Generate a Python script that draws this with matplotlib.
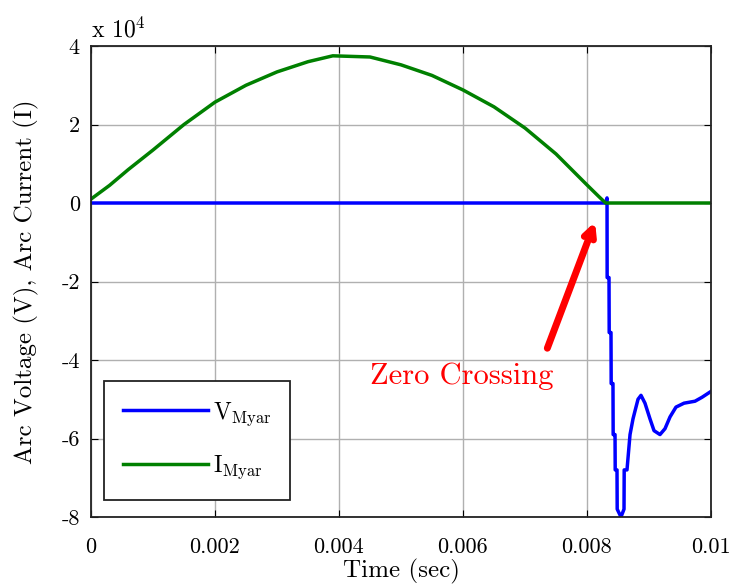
import matplotlib
matplotlib.use("Agg")
import matplotlib.pyplot as plt

plt.rcParams['font.family'] = 'serif'
plt.rcParams['font.serif'] = ['cmr10', 'DejaVu Serif']
plt.rcParams['mathtext.fontset'] = 'cm'
plt.rcParams['axes.unicode_minus'] = False
plt.rcParams['axes.formatter.use_mathtext'] = True

# Arc current (units of 1e4 A)
t_cur = [0.0, 0.0003, 0.0006, 0.001, 0.0015, 0.002, 0.0025, 0.003, 0.0035,
         0.0039, 0.0045, 0.005, 0.0055, 0.006, 0.0065, 0.007, 0.0075,
         0.008, 0.0082, 0.0083, 0.0085, 0.01]
i_cur = [0.1, 0.45, 0.85, 1.35, 2.0, 2.57, 3.0, 3.34, 3.6,
         3.75, 3.72, 3.52, 3.25, 2.88, 2.45, 1.91, 1.25,
         0.46, 0.15, 0.0, 0.0, 0.0]

# Arc voltage (units of 1e4 V)
t_volt = [0.0, 0.0083, 0.008323, 0.008325, 0.008355, 0.008358, 0.008387, 0.00839,
          0.008419, 0.008422, 0.008452, 0.008455, 0.008484, 0.008487, 0.008548,
          0.008597, 0.008600, 0.008645, 0.008694, 0.008742, 0.008774, 0.008823,
          0.008871, 0.008935, 0.009016, 0.009081, 0.009177, 0.009258, 0.009339,
          0.009435, 0.009565, 0.009742, 0.009855, 0.01]
v_volt = [0.0, 0.0, 0.13, -1.9, -1.9, -3.3, -3.3, -4.6,
          -4.6, -5.9, -5.9, -6.8, -6.8, -7.8, -8.0,
          -7.8, -6.8, -6.8, -5.9, -5.5, -5.3, -5.0,
          -4.9, -5.1, -5.5, -5.8, -5.9, -5.75, -5.45,
          -5.2, -5.1, -5.05, -4.95, -4.8]

fig = plt.figure(figsize=(7.37, 5.87), dpi=100)
ax = fig.add_axes([91/737, 1-517/587, 620/737, 471/587])

ax.plot(t_volt, v_volt, color='#0000ff', lw=2.5, label=r'V$_{\mathrm{Myar}}$')
ax.plot(t_cur, i_cur, color='#008000', lw=2.5, label=r'I$_{\mathrm{Myar}}$')

ax.set_xlim(0, 0.01)
ax.set_ylim(-8, 4)
ax.set_xticks([0, 0.002, 0.004, 0.006, 0.008, 0.01])
ax.set_xticklabels(['0', '0.002', '0.004', '0.006', '0.008', '0.01'])
ax.set_yticks([-8, -6, -4, -2, 0, 2, 4])
ax.set_yticklabels(['-8', '-6', '-4', '-2', '0', '2', '4'])
ax.tick_params(direction='in', labelsize=16, length=5, top=True, right=True, pad=8)
ax.tick_params(axis='x', pad=15)
ax.grid(True, color='#b0b0b0', lw=1)
for s in ax.spines.values():
    s.set_linewidth(1.3)
    s.set_color('#222222')

ax.set_xlabel('Time (sec)', fontsize=18, labelpad=1)
ax.set_ylabel('Arc Voltage (V), Arc Current (I)', fontsize=18, labelpad=16)
ax.text(0.0, 4.22, r'x 10$^{4}$', fontsize=17, ha='left', va='baseline')

# Zero crossing annotation
ax.annotate('', xy=(0.00813, -0.48), xytext=(0.00736, -3.7),
            arrowprops=dict(arrowstyle='->,head_width=0.35,head_length=0.7',
                            color='#ff0000', lw=5, capstyle='round',
                            joinstyle='round', shrinkA=0, shrinkB=0))
ax.text(0.00598, -4.41, 'Zero Crossing', color='#ff0000', fontsize=22,
        ha='center', va='center')

leg = ax.legend(loc='lower left', bbox_to_anchor=(13/620, 17/471), borderaxespad=0,
                fontsize=17, fancybox=False, edgecolor='#222222', framealpha=1,
                handlelength=3.6, handletextpad=0.2, borderpad=0.8,
                labelspacing=1.1)
leg.get_frame().set_linewidth(1.3)

fig.savefig('out.png', dpi=100)
